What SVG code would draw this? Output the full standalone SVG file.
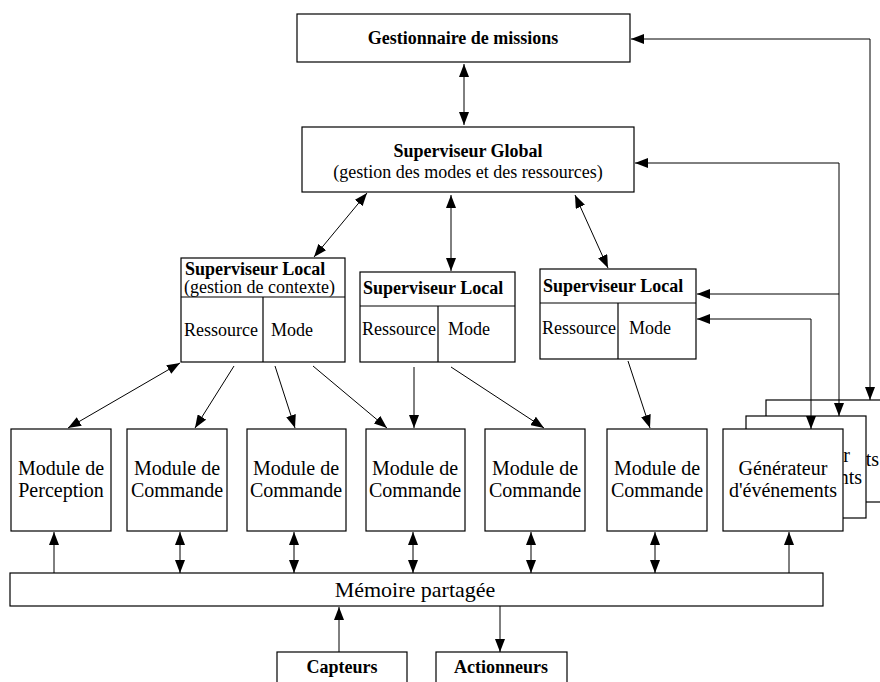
<svg xmlns="http://www.w3.org/2000/svg" width="880" height="682" viewBox="0 0 880 682">
  <style>
    .box { fill: #fff; stroke: #000; stroke-width: 1.2; }
    .div { fill: none; stroke: #000; stroke-width: 1.2; }
    .t { font-family: "Liberation Serif", "Times New Roman", serif; fill: #000; }
    .b { font-weight: bold; font-size: 18px; }
    .r18 { font-size: 18px; }
    .r20 { font-size: 20px; }
    .mid { text-anchor: middle; }
    .end { text-anchor: end; }
    .c { fill: none; stroke: #000; stroke-width: 1; }
    .one { marker-end: url(#ah); }
    .two { marker-start: url(#ah); marker-end: url(#ah); }
  </style>
  <defs>
    <marker id="ah" markerUnits="userSpaceOnUse" markerWidth="13" markerHeight="10" viewBox="0 0 13 10" refX="13" refY="5" orient="auto-start-reverse">
      <path d="M0,0 L13,5 L0,10 z" fill="#000"/>
    </marker>
  </defs>
  <rect width="880" height="682" fill="#fff"/>

  <!-- top level -->
  <g id="gestionnaire">
    <rect class="box" x="297" y="14" width="333" height="48"/>
    <text class="t b mid" x="463" y="44">Gestionnaire de missions</text>
  </g>
  <g id="superviseur-global">
    <rect class="box" x="302" y="127" width="332" height="65"/>
    <text class="t b mid" x="468" y="157">Superviseur Global</text>
    <text class="t r18 mid" x="468" y="178">(gestion des modes et des ressources)</text>
  </g>

  <!-- local supervisors -->
  <g id="superviseur-local-1">
    <rect class="box" x="181" y="258" width="164" height="104"/>
    <path class="div" d="M181,297 H345 M263,297 V362"/>
    <text class="t b" x="185" y="275">Superviseur Local</text>
    <text class="t r18" x="184" y="293">(gestion de contexte)</text>
    <text class="t r18" x="184" y="336">Ressource</text>
    <text class="t r18" x="271" y="336">Mode</text>
  </g>
  <g id="superviseur-local-2">
    <rect class="box" x="360" y="272" width="155" height="90"/>
    <path class="div" d="M360,306 H515 M438,306 V362"/>
    <text class="t b" x="363" y="294">Superviseur Local</text>
    <text class="t r18" x="362" y="335">Ressource</text>
    <text class="t r18" x="448" y="335">Mode</text>
  </g>
  <g id="superviseur-local-3">
    <rect class="box" x="540" y="269" width="156" height="90"/>
    <path class="div" d="M540,303 H696 M618,303 V359"/>
    <text class="t b" x="543" y="292">Superviseur Local</text>
    <text class="t r18" x="542" y="334">Ressource</text>
    <text class="t r18" x="629" y="334">Mode</text>
  </g>

  <!-- modules -->
  <g id="module-perception">
    <rect class="box" x="11" y="429" width="100" height="102"/>
    <text class="t r20 mid" x="61" y="475">Module de</text>
    <text class="t r20 mid" x="61" y="497">Perception</text>
  </g>
  <g id="module-commande-1">
    <rect class="box" x="127" y="429" width="100" height="102"/>
    <text class="t r20 mid" x="177" y="475">Module de</text>
    <text class="t r20 mid" x="177" y="497">Commande</text>
  </g>
  <g id="module-commande-2">
    <rect class="box" x="247" y="429" width="99" height="102"/>
    <text class="t r20 mid" x="296" y="475">Module de</text>
    <text class="t r20 mid" x="296" y="497">Commande</text>
  </g>
  <g id="module-commande-3">
    <rect class="box" x="366" y="429" width="99" height="102"/>
    <text class="t r20 mid" x="415" y="475">Module de</text>
    <text class="t r20 mid" x="415" y="497">Commande</text>
  </g>
  <g id="module-commande-4">
    <rect class="box" x="485" y="429" width="100" height="102"/>
    <text class="t r20 mid" x="535" y="475">Module de</text>
    <text class="t r20 mid" x="535" y="497">Commande</text>
  </g>
  <g id="module-commande-5">
    <rect class="box" x="607" y="429" width="100" height="102"/>
    <text class="t r20 mid" x="657" y="475">Module de</text>
    <text class="t r20 mid" x="657" y="497">Commande</text>
  </g>

  <!-- stacked event generators: only the right-hand ends of the rear labels stay visible -->
  <g id="generateur-3">
    <rect class="box" x="766" y="400" width="120" height="102"/>
    <text class="t r20 end" x="879" y="466">ts</text>
  </g>
  <g id="generateur-2">
    <rect class="box" x="746" y="416" width="120" height="102"/>
    <text class="t r20 end" x="850" y="462">r</text>
    <text class="t r20 end" x="862" y="484">nts</text>
  </g>
  <g id="generateur-1">
    <rect class="box" x="723" y="429" width="120" height="102"/>
    <text class="t r20 mid" x="783" y="475">Générateur</text>
    <text class="t r20 mid" x="783" y="497">d'événements</text>
  </g>

  <!-- shared memory and devices -->
  <g id="memoire">
    <rect class="box" x="10" y="573" width="813" height="33"/>
    <text class="t mid" style="font-size:22px" x="415" y="597">Mémoire partagée</text>
  </g>
  <g id="capteurs">
    <rect class="box" x="277" y="652" width="130" height="40"/>
    <text class="t b mid" x="342" y="673">Capteurs</text>
  </g>
  <g id="actionneurs">
    <rect class="box" x="436" y="652" width="131" height="40"/>
    <text class="t b mid" x="501" y="673">Actionneurs</text>
  </g>

  <g id="connectors">
    <path class="c two" d="M464,64 L464,125"/>
    <path class="c two" d="M367,193 L314,257"/>
    <path class="c two" d="M451,195 L451,271"/>
    <path class="c two" d="M575,195 L608,268"/>
    <path class="c two" d="M180,363 L68,428"/>
    <path class="c one" d="M234,366 L195,428"/>
    <path class="c one" d="M275,366 L295,428"/>
    <path class="c one" d="M313,366 L387,428"/>
    <path class="c one" d="M414,367 L414,428"/>
    <path class="c one" d="M451,367 L544,428"/>
    <path class="c one" d="M628,361 L650,428"/>
    <path class="c two" d="M870,400 L870,39 L631,39"/>
    <path class="c two" d="M839,416 L839,163 L635,163"/>
    <path class="c one" d="M839,294 L697,294"/>
    <path class="c two" d="M811,429 L811,319 L697,319"/>
    <path class="c one" d="M54,573 L54,532"/>
    <path class="c two" d="M180,532 L180,573"/>
    <path class="c two" d="M294,532 L294,573"/>
    <path class="c two" d="M413,532 L413,573"/>
    <path class="c two" d="M531,532 L531,573"/>
    <path class="c two" d="M655,532 L655,573"/>
    <path class="c one" d="M789,573 L789,532"/>
    <path class="c one" d="M339,652 L339,607"/>
    <path class="c one" d="M500,606 L500,652"/>
  </g>
</svg>
